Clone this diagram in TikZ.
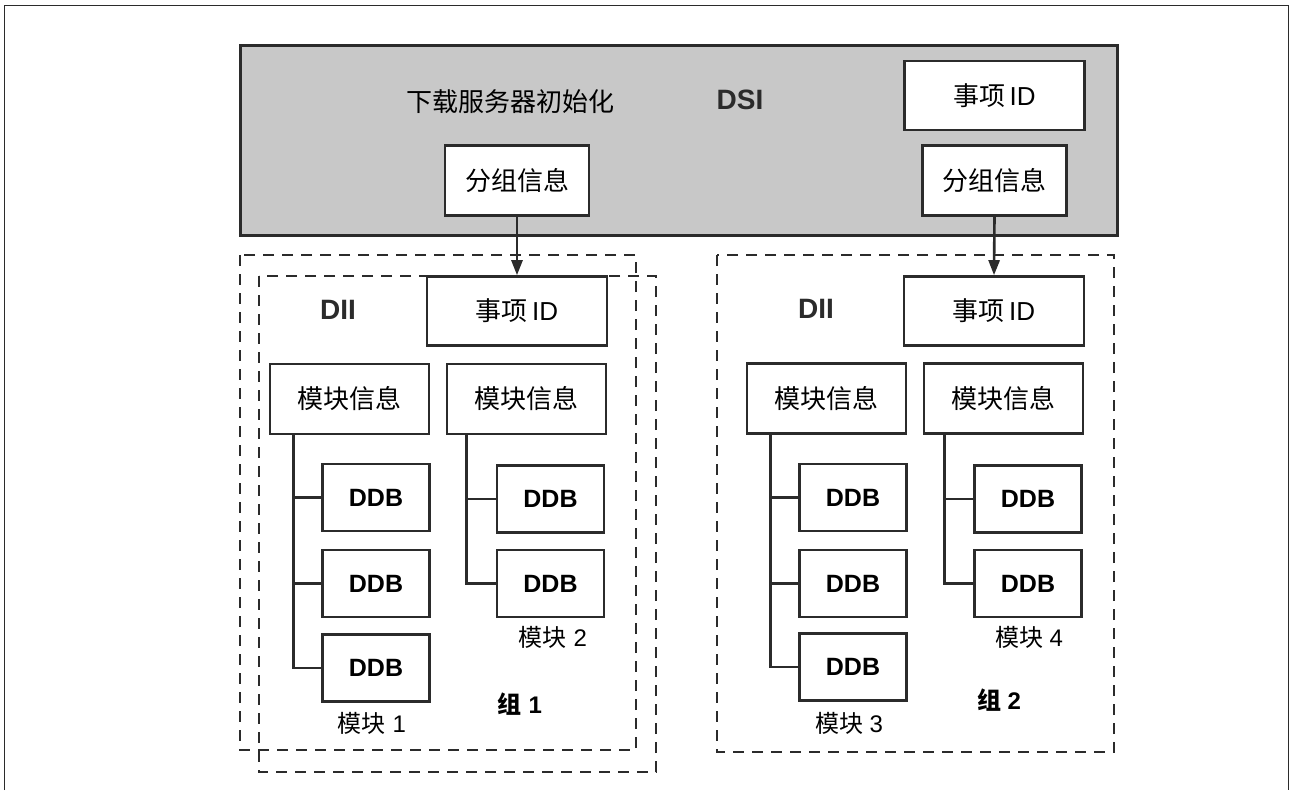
\documentclass[tikz,border=0pt]{standalone}
\usepackage{fontspec}
\setmainfont{Liberation Sans}
\newfontfamily\cjk{Noto Sans CJK SC}
\usetikzlibrary{calc,arrows.meta}
\definecolor{lc}{HTML}{2B2B2B}
\definecolor{dsigray}{HTML}{C8C8C8}
\tikzset{
  box/.style={draw=lc, line width=2.6pt, fill=white, inner sep=0pt, font=\fontsize{26}{30}\selectfont},
  ddbbox/.style={box, minimum width=107pt, minimum height=67pt, font=\bfseries\fontsize{25}{29}\selectfont},
  infobox/.style={box, minimum width=159pt, minimum height=70pt},
  idbox/.style={box, minimum width=180pt, minimum height=69pt},
  grpbox/.style={box, minimum width=144pt, minimum height=70pt},
  grouprect/.style={draw=lc, line width=2.6pt, dash pattern=on 11pt off 8pt},
  treeline/.style={draw=lc, line width=2.6pt},
  arr/.style={draw=lc, line width=2.6pt, -{Triangle[length=15pt,width=11pt]}},
  title/.style={inner sep=0pt, text=lc, font=\bfseries\fontsize{28}{32}\selectfont},
  lbl/.style={inner sep=0pt, text=black, font=\fontsize{24}{28}\selectfont},
  blbl/.style={inner sep=0pt, text=black, font=\bfseries\fontsize{24}{28}\selectfont},
}
\begin{document}
\begin{tikzpicture}[x=1pt,y=-1pt]
\useasboundingbox (0,0) rectangle (1290,790);
% outer frame
\draw[line width=1.8pt, color=lc] (4.5,790) -- (4.5,5.5) -- (1288.5,5.5) -- (1288.5,790);
% DSI block
\node[draw=lc, line width=3pt, fill=dsigray, minimum width=877pt, minimum height=190pt, inner sep=0pt, anchor=north west] (dsi) at (238.5,43.5) {};
\node[inner sep=0pt, font=\cjk\fontsize{26}{30}\selectfont] (init) at (510,102) {下载服务器初始化};
\node[title] (dsit) at (740,100) {DSI};
\node[idbox] (tid) at (994.5,95.5) {{\cjk 事项}\,ID};
\node[grpbox, font=\cjk\fontsize{26}{30}\selectfont] (gi1) at (517,180.5) {分组信息};
\node[grpbox, font=\cjk\fontsize{26}{30}\selectfont] (gi2) at (994.5,180.5) {分组信息};

% ---------- group 1 ----------
\draw[grouprect] (259,276) rectangle (656,772);
\draw[grouprect] (240,255) rectangle (636,750);
\node[idbox] (e1) at (517,311) {{\cjk 事项}\,ID};
\node[title] (dii1) at (338,310) {DII};
\node[infobox, font=\cjk\fontsize{26}{30}\selectfont] (ma1) at (349.5,399) {模块信息};
\node[infobox, font=\cjk\fontsize{26}{30}\selectfont] (mb1) at (526.5,399) {模块信息};
\node[ddbbox] (a11) at (376,497.5) {DDB};
\node[ddbbox] (a12) at (376,583.5) {DDB};
\node[ddbbox] (a13) at (376,668) {DDB};
\node[ddbbox] (b11) at (550.5,499) {DDB};
\node[ddbbox] (b12) at (550.5,583.5) {DDB};
\node[lbl] (m1) at (372,723) {{\cjk 模块} 1};
\node[lbl] (m2) at (553,637) {{\cjk 模块} 2};
\node[blbl] (grp1) at (520,704) {{\cjk\bfseries 组} 1};
\coordinate (ta1) at ($(ma1.south west)+(25,0)$);
\coordinate (tb1) at ($(mb1.south west)+(21,0)$);
\draw[treeline] (ta1) |- (a13.west);
\draw[treeline] (a11.west) -- (a11.west -| ta1);
\draw[treeline] (a12.west) -- (a12.west -| ta1);
\draw[treeline] (tb1) |- (b12.west);
\draw[treeline] (b11.west) -- (b11.west -| tb1);

% ---------- group 2 ----------
\draw[grouprect] (717,255) rectangle (1114,752);
\node[idbox] (e2) at (994,311) {{\cjk 事项}\,ID};
\node[title] (dii2) at (816,309) {DII};
\node[infobox, font=\cjk\fontsize{26}{30}\selectfont] (ma2) at (826.5,398.5) {模块信息};
\node[infobox, font=\cjk\fontsize{26}{30}\selectfont] (mb2) at (1003.5,398.5) {模块信息};
\node[ddbbox] (a21) at (853,497.5) {DDB};
\node[ddbbox] (a22) at (853,583.5) {DDB};
\node[ddbbox] (a23) at (853,667) {DDB};
\node[ddbbox] (b21) at (1028,499) {DDB};
\node[ddbbox] (b22) at (1028,583.5) {DDB};
\node[lbl] (m3) at (849,723) {{\cjk 模块} 3};
\node[lbl] (m4) at (1029,637) {{\cjk 模块} 4};
\node[blbl] (grp2) at (999,700) {{\cjk\bfseries 组} 2};
\coordinate (ta2) at ($(ma2.south west)+(25,0)$);
\coordinate (tb2) at ($(mb2.south west)+(22,0)$);
\draw[treeline] (ta2) |- (a23.west);
\draw[treeline] (a21.west) -- (a21.west -| ta2);
\draw[treeline] (a22.west) -- (a22.west -| ta2);
\draw[treeline] (tb2) |- (b22.west);
\draw[treeline] (b21.west) -- (b21.west -| tb2);

% arrows
\draw[arr] (gi1.south) -- (e1.north);
\draw[arr] (gi2.south) -- (e2.north);
\end{tikzpicture}
\end{document}
